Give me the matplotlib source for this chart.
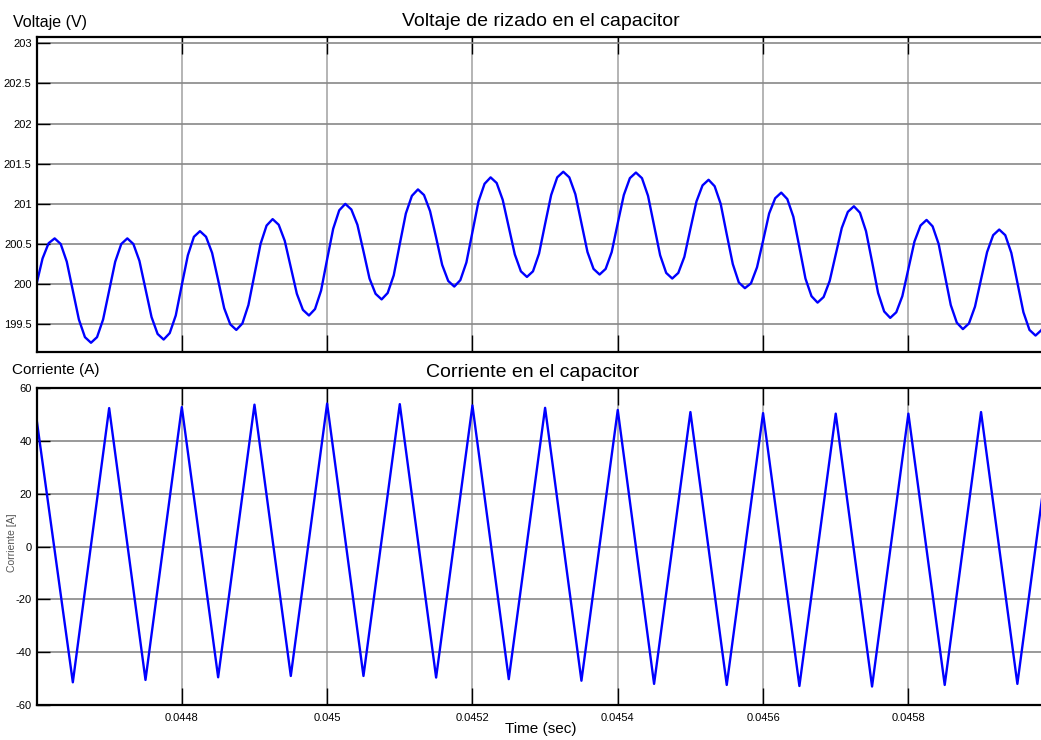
import numpy as np
import matplotlib
matplotlib.use("Agg")
import matplotlib.pyplot as plt

plt.rcParams['font.family'] = ['Liberation Sans', 'DejaVu Sans']

# Simulation window (s)
t_start, t_end = 0.0446, 0.0460

# Capacitor ripple voltage (V), 12 samples per 100 us switching period
v_cap = [
    200.00, 200.32, 200.51, 200.57, 200.50, 200.28, 199.92, 199.56, 199.34, 199.27, 199.34, 199.56,
    199.92, 200.28, 200.50, 200.57, 200.50, 200.29, 199.94, 199.59, 199.38, 199.31, 199.39, 199.61,
    199.99, 200.36, 200.59, 200.66, 200.59, 200.39, 200.05, 199.70, 199.50, 199.43, 199.51, 199.74,
    200.12, 200.50, 200.73, 200.81, 200.74, 200.54, 200.21, 199.88, 199.68, 199.61, 199.69, 199.92,
    200.31, 200.69, 200.92, 201.00, 200.93, 200.74, 200.41, 200.07, 199.88, 199.81, 199.89, 200.11,
    200.50, 200.88, 201.10, 201.18, 201.11, 200.91, 200.58, 200.24, 200.04, 199.97, 200.05, 200.27,
    200.65, 201.03, 201.25, 201.33, 201.26, 201.05, 200.71, 200.37, 200.16, 200.09, 200.16, 200.38,
    200.75, 201.11, 201.33, 201.40, 201.33, 201.12, 200.76, 200.40, 200.19, 200.12, 200.19, 200.40,
    200.76, 201.11, 201.32, 201.39, 201.32, 201.10, 200.73, 200.36, 200.14, 200.07, 200.14, 200.34,
    200.69, 201.03, 201.23, 201.30, 201.22, 201.00, 200.62, 200.25, 200.02, 199.95, 200.01, 200.21,
    200.54, 200.88, 201.07, 201.14, 201.06, 200.84, 200.46, 200.07, 199.85, 199.77, 199.84, 200.04,
    200.37, 200.70, 200.90, 200.97, 200.89, 200.66, 200.28, 199.89, 199.66, 199.58, 199.65, 199.85,
    200.19, 200.53, 200.73, 200.80, 200.72, 200.50, 200.12, 199.74, 199.52, 199.44, 199.51, 199.72,
    200.06, 200.40, 200.61, 200.68, 200.61, 200.39, 200.02, 199.65, 199.43, 199.36, 199.43, 199.62,
    199.96,
]

# Capacitor current (A) at the triangle vertices, every half period
i_cap = [
    48.5, -51.4, 52.5, -50.5, 52.9, -49.5, 53.8, -49.0, 54.2, -49.0,
    54.0, -49.6, 53.5, -50.2, 52.6, -50.8, 51.8, -52.0, 51.0, -52.4,
    50.6, -52.8, 50.4, -53.0, 50.4, -52.4, 51.0, -52.0, 51.5,
]

t_v = np.linspace(t_start, t_end, len(v_cap))
t_i = np.linspace(t_start, t_end, len(i_cap))

time_ticks = [0.0448, 0.0450, 0.0452, 0.0454, 0.0456, 0.0458]
time_labels = ['0.0448', '0.045', '0.0452', '0.0454', '0.0456', '0.0458']
volt_ticks = [199.5, 200, 200.5, 201, 201.5, 202, 202.5, 203]
volt_labels = ['199.5', '200', '200.5', '201', '201.5', '202', '202.5', '203']
amp_ticks = [-60, -40, -20, 0, 20, 40, 60]
amp_labels = ['-60', '-40', '-20', '0', '20', '40', '60']

W, H = 1041, 740
fig = plt.figure(figsize=(W / 100, H / 100), dpi=100)

x0, x1 = 36.5, 1053.7
ax_v = fig.add_axes([x0 / W, 1 - 352 / H, (x1 - x0) / W, (352 - 36.7) / H])
ax_i = fig.add_axes([x0 / W, 1 - 705 / H, (x1 - x0) / W, (705 - 388.3) / H])


def style_axes(ax):
    ax.set_xlim(t_start, t_end)
    ax.set_xticks(time_ticks)
    ax.xaxis.grid(True, color='#a8a8a8', lw=1.2)
    ax.yaxis.grid(True, color='#888888', lw=1.2)
    ax.set_axisbelow(True)
    ax.tick_params(axis='both', direction='in', top=True, right=True,
                   width=1.0, color='black', labelsize=8, pad=3.5)
    ax.tick_params(axis='x', length=12, pad=6)
    ax.tick_params(axis='y', length=9.5)
    for side in ax.spines.values():
        side.set_linewidth(1.6)


style_axes(ax_v)
ax_v.plot(t_v, v_cap, color='#0000ff', lw=1.7)
ax_v.set_ylim(199.155, 203.082)
ax_v.set_yticks(volt_ticks)
ax_v.set_yticklabels(volt_labels)
ax_v.set_xticklabels([])

style_axes(ax_i)
ax_i.plot(t_i, i_cap, color='#0000ff', lw=1.7)
ax_i.set_ylim(-60, 60)
ax_i.set_yticks(amp_ticks)
ax_i.set_yticklabels(amp_labels)
ax_i.set_xticklabels(time_labels)

# Labels placed in figure pixels, Simulink scope style
fig.text(13 / W, 1 - 22 / H, 'Voltaje (V)', fontsize=11.5, ha='left', va='center')
fig.text(541 / W, 1 - 22 / H, 'Voltaje de rizado en el capacitor', fontsize=14,
         ha='center', va='center')
fig.text(12 / W, 1 - 370 / H, 'Corriente (A)', fontsize=11, ha='left', va='center')
fig.text(533 / W, 1 - 373 / H, 'Corriente en el capacitor', fontsize=14,
         ha='center', va='center')
fig.text(541 / W, 1 - 729 / H, 'Time (sec)', fontsize=11, ha='center', va='center')
fig.text(12 / W, 1 - 543 / H, 'Corriente [A]', fontsize=7.5, color='#555555',
         rotation=90, ha='center', va='center')

fig.savefig('out.png', dpi=100)
